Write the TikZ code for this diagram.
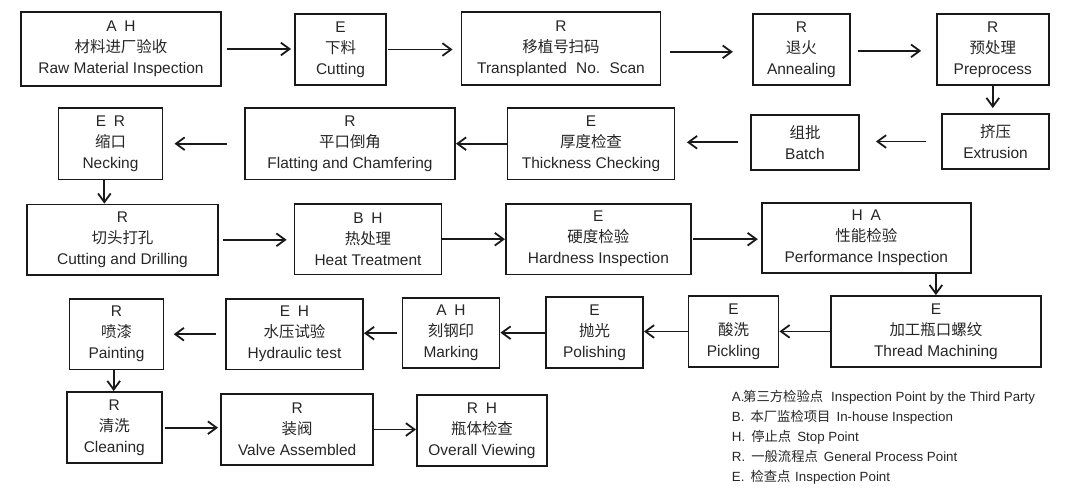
\documentclass[tikz,border=0pt]{standalone}
\usepackage{fontspec}
\setmainfont{Liberation Sans}
\newfontfamily\cjk{Noto Sans CJK SC}
\usetikzlibrary{arrows.meta}

\begin{document}
\begin{tikzpicture}[
    x=0.75pt, y=-0.75pt,
    stage/.style={draw=black!90, line width=1.4pt, align=center, inner sep=0pt,
                  font=\fontsize{11.6}{15.75}\selectfont, text=black!85},
    dims/.style 2 args={minimum width=#1*0.75pt, minimum height=#2*0.75pt},
    flow/.style={-{Straight Barb[length=6.5pt,width=9.5pt]}, line width=1.35pt, draw=black!90},
    legend/.style={anchor=base west, inner sep=0pt, font=\fontsize{10}{12}\selectfont, text=black!85}
  ]
  \useasboundingbox (0,0) rectangle (1089,494);

  % first row
  \node[stage, dims={200}{74}] (raw) at (121,49) {A\enspace H\\{\cjk 材料进厂验收}\\Raw Material Inspection};
  \node[stage, dims={91}{71.5}] (cut) at (340.5,49.5) {E\\{\cjk 下料}\\Cutting};
  \node[stage, dims={199}{73}] (scan) at (561,48.5) {R\\{\cjk 移植号扫码}\\Transplanted\hspace{0.6em}No.\hspace{0.6em}Scan};
  \node[stage, dims={97}{71}] (anneal) at (801.4,49.5) {R\\{\cjk 退火}\\Annealing};
  \node[stage, dims={112}{71}] (prep) at (992.8,49.5) {R\\{\cjk 预处理}\\Preprocess};

  % second row
  \node[stage, dims={107}{55}] (extr) at (995.5,141.5) {{\cjk 挤压}\\Extrusion};
  \node[stage, dims={108}{55}] (batch) at (805,142.3) {{\cjk 组批}\\Batch};
  \node[stage, dims={167}{71.5}] (thick) at (591,143.7) {E\\{\cjk 厚度检查}\\Thickness Checking};
  \node[stage, dims={210}{71.5}] (flat) at (350,143.7) {R\\{\cjk 平口倒角}\\Flatting and Chamfering};
  \node[stage, dims={104}{71.5}] (neck) at (110.5,143.7) {E\enspace R\\{\cjk 缩口}\\Necking};

  % third row
  \node[stage, dims={191}{70.5}] (drill) at (122.5,239.8) {R\\{\cjk 切头打孔}\\Cutting and Drilling};
  \node[stage, dims={147}{70.5}] (heat) at (368,239.2) {B\enspace H\\{\cjk 热处理}\\Heat Treatment};
  \node[stage, dims={185}{70.5}] (hard) at (598.4,239.2) {E\\{\cjk 硬度检验}\\Hardness Inspection};
  \node[stage, dims={209}{70.4}] (perf) at (866.3,238.2) {H\enspace A\\{\cjk 性能检验}\\Performance Inspection};

  % fourth row
  \node[stage, dims={210}{70.7}] (thread) at (935.9,331.4) {E\\{\cjk 加工瓶口螺纹}\\Thread Machining};
  \node[stage, dims={90}{71}] (pick) at (733.5,331.5) {E\\{\cjk 酸洗}\\Pickling};
  \node[stage, dims={97}{71}] (polish) at (594.5,332.7) {E\\{\cjk 抛光}\\Polishing};
  \node[stage, dims={97}{70.4}] (mark) at (451,333.2) {A\enspace H\\{\cjk 刻钢印}\\Marking};
  \node[stage, dims={137}{70.5}] (hydr) at (294.5,334.2) {E\enspace H\\{\cjk 水压试验}\\Hydraulic test};
  \node[stage, dims={94}{70.5}] (paint) at (116.5,334.2) {R\\{\cjk 喷漆}\\Painting};

  % last row
  \node[stage, dims={94.6}{71.4}] (clean) at (114.3,427.7) {R\\{\cjk 清洗}\\Cleaning};
  \node[stage, dims={151.6}{71}] (valve) at (297.2,429.5) {R\\{\cjk 装阀}\\Valve Assembled};
  \node[stage, dims={130}{71.4}] (overall) at (482,430.3) {R\enspace H\\{\cjk 瓶体检查}\\Overall Viewing};

  % connectors
  \draw[flow, shorten <=3.75pt, shorten >=2.25pt] (raw.east) -- (raw.east -| cut.west);
  \draw[flow, shorten <=1.1pt, shorten >=6pt] (cut.east) -- (cut.east -| scan.west);
  \draw[flow, shorten <=6.3pt, shorten >=14.3pt] ([yshift=-2.5pt]scan.east) -- ([yshift=-2.5pt]scan.east -| anneal.west);
  \draw[flow, shorten <=5.25pt, shorten >=11pt] ([yshift=-1pt]anneal.east) -- ([yshift=-1pt]anneal.east -| prep.west);
  \draw[flow, shorten >=3.75pt] (prep.south) -- (prep.south |- extr.north);
  \draw[flow, shorten <=11.25pt, shorten >=12pt] (extr.west) -- (extr.west -| batch.east);
  \draw[flow, shorten <=9.3pt, shorten >=8.6pt] (batch.west) -- (batch.west -| thick.east);
  \draw[flow] (thick.west) -- (thick.west -| flat.east);
  \draw[flow, shorten <=13pt, shorten >=8.3pt] (flat.west) -- (flat.west -| neck.east);
  \draw[flow] ([xshift=-4.6pt]neck.south) -- ([xshift=-4.6pt]neck.south |- drill.north);
  \draw[flow, shorten <=3.4pt, shorten >=5.2pt] (drill.east) -- (drill.east -| heat.west);
  \draw[flow] (heat.east) -- (heat.east -| hard.west);
  \draw[flow, shorten <=1.1pt, shorten >=2.3pt] (hard.east) -- (hard.east -| perf.west);
  \draw[flow] (thread.north |- perf.south) -- (thread.north);
  \draw[flow] (thread.west) -- (thread.west -| pick.east);
  \draw[flow] (pick.west) -- (pick.west -| polish.east);
  \draw[flow] (polish.west) -- (polish.west -| mark.east);
  \draw[flow, shorten <=3.4pt] (mark.west) -- (mark.west -| hydr.east);
  \draw[flow, shorten <=6.75pt, shorten >=7pt] (hydr.west) -- (hydr.west -| paint.east);
  \draw[flow] ([xshift=-2.1pt]paint.south) -- ([xshift=-2.1pt]paint.south |- clean.north);
  \draw[flow, shorten <=1.5pt, shorten >=1.8pt] (clean.east) -- (clean.east -| valve.west);
  \draw[flow] (valve.east) -- (valve.east -| overall.west);

  % legend
  \node[legend] (legA) at (731.7,401.2) {A.\hspace{-0.1em}{\cjk 第三方检验点}\hspace{0.6em}Inspection Point by the Third Party};
  \node[legend] (legB) at (731.7,421.2) {B.\hspace{0.45em}{\cjk 本厂监检项目}\hspace{0.45em}In-house Inspection};
  \node[legend] (legH) at (731.7,441.2) {H.\hspace{0.45em}{\cjk 停止点}\hspace{0.45em}Stop Point};
  \node[legend] (legR) at (731.7,461.5) {R.\hspace{0.45em}{\cjk 一般流程点}\hspace{0.45em}General Process Point};
  \node[legend] (legE) at (731.7,481.5) {E.\hspace{0.45em}{\cjk 检查点}\hspace{0.35em}Inspection Point};
\end{tikzpicture}
\end{document}
